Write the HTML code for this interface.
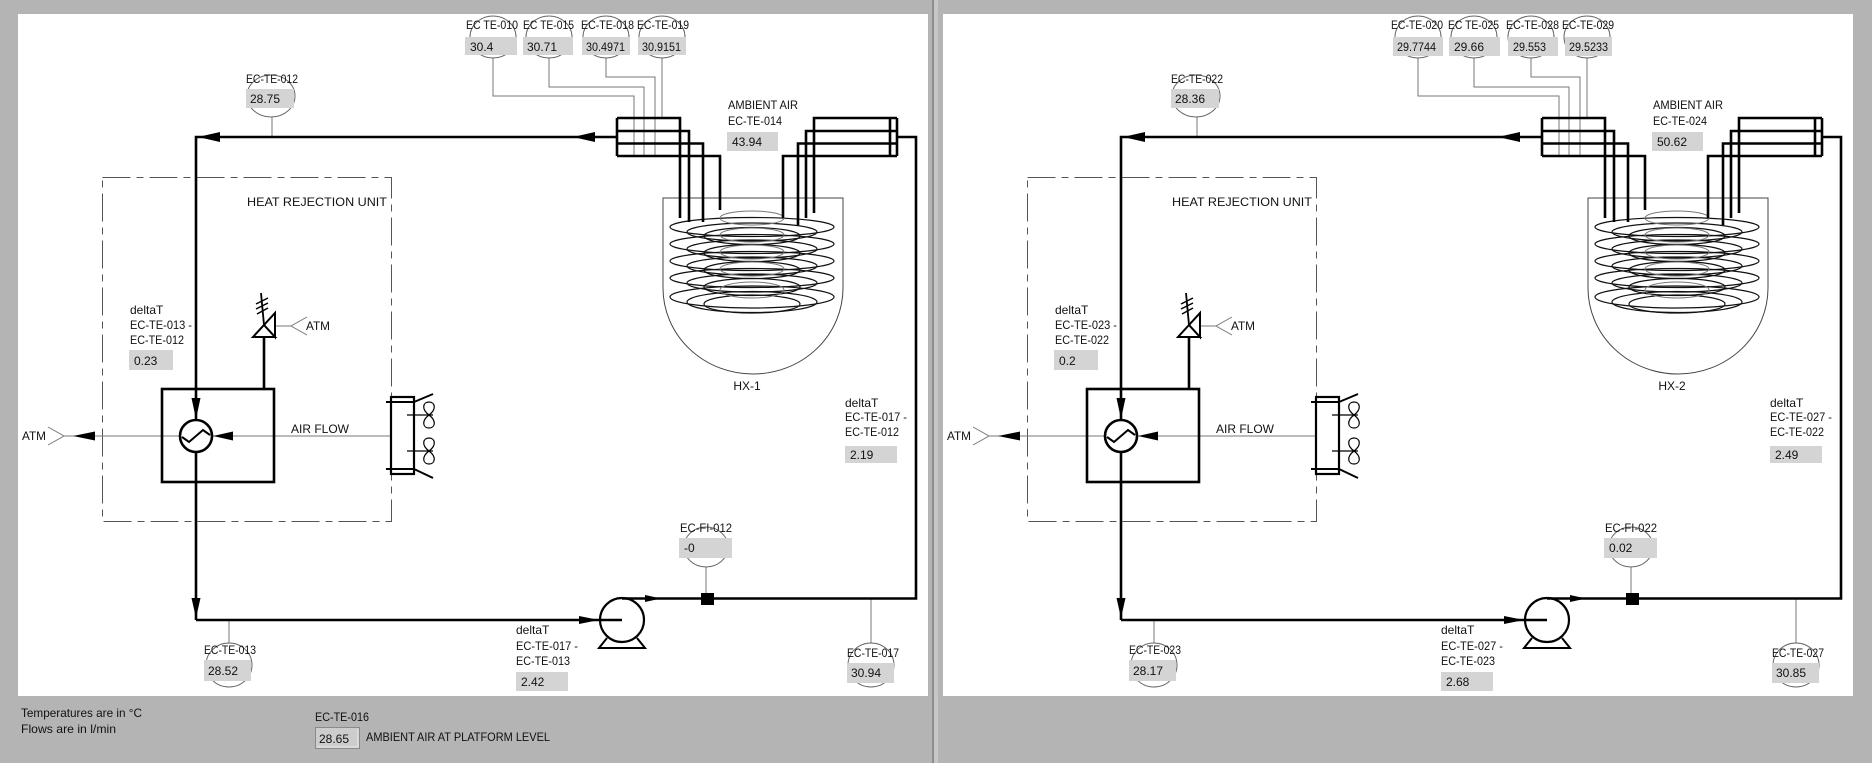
<!DOCTYPE html>
<html><head><meta charset="utf-8"><style>
html,body{margin:0;padding:0;background:#b4b4b4;}
svg{display:block}
text{font-family:"Liberation Sans",Arial,sans-serif;fill:#111;font-size:12px;}
</style></head><body>
<svg width="1872" height="763" viewBox="0 0 1872 763" xmlns="http://www.w3.org/2000/svg">
<rect width="1872" height="763" fill="#b4b4b4"/>
<rect x="18" y="14" width="910" height="682" fill="#fff"/>
<rect x="943" y="14" width="910" height="682" fill="#fff"/>
<rect x="932" y="0" width="2" height="763" fill="#8c8c8c"/>
<rect x="934" y="0" width="4" height="763" fill="#c6c6c6"/>

<defs>
<g id="d">
 <g fill="none" stroke="#000">
  <!-- HRU dashed box -->
  <rect x="102.5" y="177.5" width="289" height="344" stroke="#555" stroke-width="1" stroke-dasharray="28,6,7,6"/>
  <!-- vessel -->
  <path d="M663,198 V288 A90,86 0 0 0 843,288 V198 Z" stroke="#444" stroke-width="1"/>
  <!-- coils -->
  <g stroke="#111" stroke-width="1.2">
   <ellipse cx="752" cy="227" rx="82" ry="9.5"/>
   <ellipse cx="752" cy="244" rx="82" ry="9.5"/>
   <ellipse cx="752" cy="261" rx="82" ry="9.5"/>
   <ellipse cx="752" cy="278" rx="82" ry="9.5"/>
   <ellipse cx="752" cy="297" rx="82" ry="11"/>
   <ellipse cx="752" cy="232" rx="65" ry="9"/>
   <ellipse cx="752" cy="249" rx="65" ry="9"/>
   <ellipse cx="752" cy="266" rx="65" ry="9"/>
   <ellipse cx="752" cy="283" rx="65" ry="9"/>
   <ellipse cx="752" cy="302" rx="65" ry="10.5"/>
   <ellipse cx="752" cy="236" rx="48" ry="8.5"/>
   <ellipse cx="752" cy="253" rx="48" ry="8.5"/>
   <ellipse cx="752" cy="270" rx="48" ry="8.5"/>
   <ellipse cx="752" cy="287" rx="48" ry="8.5"/>
   <ellipse cx="752" cy="304" rx="48" ry="9"/>
  </g>
  <g stroke="#777" stroke-width="1">
   <ellipse cx="752" cy="218" rx="32" ry="7"/>
   <ellipse cx="752" cy="235" rx="32" ry="7"/>
   <ellipse cx="752" cy="252" rx="32" ry="7"/>
   <ellipse cx="752" cy="269" rx="32" ry="7"/>
   <ellipse cx="752" cy="290" rx="32" ry="8"/>
  </g>
  <!-- thin instrument lines -->
  <g stroke="#777" stroke-width="1">
   <path d="M493,58 V96 H634 V156"/>
   <path d="M549,58 V87 H644 V156"/>
   <path d="M606,58 V77 H655 V156"/>
   <path d="M662,58 V118"/>
   <path d="M272,117 V137"/>
   <path d="M706,567 V593"/>
   <path d="M871,599 V643"/>
   <path d="M229,620 V643"/>
   <path d="M64,436 H402"/>
   <path d="M48,427 L64,436 L48,445"/>
   <path d="M275,326 H291"/>
   <path d="M307,317 L291,326 L307,335"/>
  </g>
  <!-- bubbles -->
  <g stroke="#666" stroke-width="1">
   <ellipse cx="493" cy="37" rx="23" ry="21"/>
   <ellipse cx="549" cy="37" rx="23" ry="21"/>
   <ellipse cx="606" cy="37" rx="23" ry="21"/>
   <ellipse cx="662" cy="37" rx="23" ry="21"/>
   <ellipse cx="271" cy="96" rx="24" ry="21"/>
   <ellipse cx="706" cy="547" rx="22" ry="20"/>
   <ellipse cx="871" cy="665" rx="23" ry="22"/>
   <ellipse cx="229" cy="665" rx="23" ry="22"/>
  </g>
  <!-- pipes -->
  <g stroke-width="2.6">
   <path d="M617,137 H196 V420"/>
   <path d="M196,452 V620"/>
   <circle cx="622" cy="620" r="22" fill="#fff" stroke-width="2.2"/>
   <path d="M196,620 H622"/>
   <path d="M607,638 L599,648 H645 L637,638" stroke-width="2"/>
   <path d="M622,598.5 H916 V137 H897"/>
   <!-- left manifold -->
   <path d="M617,118 H680 V218"/>
   <path d="M617,131 H689 V222"/>
   <path d="M617,143.5 H703 V222"/>
   <path d="M617,156 H720 V210"/>
   <path d="M617,118 V156"/>
   <!-- right manifold -->
   <path d="M897,118 H814 V213"/>
   <path d="M897,131 H806 V218"/>
   <path d="M897,143.5 H798 V225"/>
   <path d="M897,156 H783 V218"/>
   <path d="M897,118 V156"/>
   <path d="M890,118 V156"/>
   <!-- cooler box -->
   <rect x="162" y="389" width="112" height="93"/>
   <path d="M264,389 V337"/>
   <circle cx="196" cy="436" r="16" fill="#fff"/>
   <polyline points="182,437 189,442 203,430 210,435" stroke-width="2"/>
   <!-- relief valve -->
   <path d="M253,337 H275 L264,325 Z M275,313 V337 L264,325 Z" stroke-width="2" fill="#fff"/>
   <path d="M264,325 L261,293" stroke-width="1.8"/>
   <path d="M256,304 L268,298 M256,309 L268,303 M257,314 L268,308" stroke-width="1.5"/>
   <!-- fan -->
   <rect x="391" y="397" width="23" height="77" stroke-width="2.2" fill="#fff"/>
   <path d="M386,402 H414 M386,469 H414" stroke-width="2"/>
   <path d="M414,402 L433,394 M414,469 L433,478" stroke-width="2"/>
   <path d="M407,415 H433 M407,451 H433" stroke-width="1.3"/>
   <path d="M429,415 C421,409 423,402 429,402 C435,402 437,409 429,415 C421,421 423,428 429,428 C435,428 437,421 429,415 Z" stroke-width="1.2"/>
   <path d="M429,451 C421,445 423,438 429,438 C435,438 437,445 429,451 C421,457 423,464 429,464 C435,464 437,457 429,451 Z" stroke-width="1.2"/>
  </g>
 </g>
 <!-- arrows -->
 <g fill="#000">
  <polygon points="198,137 220,132 220,142"/>
  <polygon points="573,137 595,132 595,142"/>
  <polygon points="196,419 191.5,398 200.5,398"/>
  <polygon points="196,618 191.5,598 200.5,598"/>
  <polygon points="599,620 579,616 579,624"/>
  <polygon points="661,598.5 645,595 645,602"/>
  <polygon points="73,436 95,431.5 95,440.5"/>
  <polygon points="213,436 233,431.5 233,440.5"/>
  <rect x="701" y="593" width="13" height="12"/>
 </g>
</g>
</defs>

<use href="#d"/>
<use href="#d" x="925"/>

<!-- LEFT PANEL TEXT -->
<g>
 <text x="466" y="29" textLength="52" lengthAdjust="spacingAndGlyphs">EC TE-010</text>
 <text x="523" y="29" textLength="51" lengthAdjust="spacingAndGlyphs">EC TE-015</text>
 <text x="581" y="29" textLength="53" lengthAdjust="spacingAndGlyphs">EC-TE-018</text>
 <text x="637" y="29" textLength="52" lengthAdjust="spacingAndGlyphs">EC-TE-019</text>
 <g fill="#d4d4d4">
  <rect x="465" y="37" width="52" height="18"/>
  <rect x="523" y="37" width="50" height="18"/>
  <rect x="582" y="37" width="48" height="18"/>
  <rect x="638" y="37" width="48" height="18"/>
  <rect x="246" y="89" width="48" height="19"/>
  <rect x="727" y="132" width="51" height="19"/>
  <rect x="129" y="350" width="44" height="20"/>
  <rect x="845" y="446" width="52" height="17"/>
  <rect x="679" y="538" width="53" height="20"/>
  <rect x="847" y="663" width="47" height="20"/>
  <rect x="204" y="660" width="47" height="21"/>
  <rect x="516" y="672" width="52" height="19"/>
 </g>
 <text x="470" y="51">30.4</text>
 <text x="527" y="51">30.71</text>
 <text x="586" y="51" textLength="39" lengthAdjust="spacingAndGlyphs">30.4971</text>
 <text x="642" y="51" textLength="39" lengthAdjust="spacingAndGlyphs">30.9151</text>
 <text x="246" y="83" textLength="52" lengthAdjust="spacingAndGlyphs">EC-TE-012</text>
 <text x="250" y="103">28.75</text>
 <text x="728" y="109" textLength="70" lengthAdjust="spacingAndGlyphs">AMBIENT AIR</text>
 <text x="728" y="125" textLength="54" lengthAdjust="spacingAndGlyphs">EC-TE-014</text>
 <text x="732" y="146">43.94</text>
 <text x="247" y="206" textLength="140" lengthAdjust="spacingAndGlyphs">HEAT  REJECTION  UNIT</text>
 <text x="130" y="314">deltaT</text>
 <text x="130" y="329" textLength="62" lengthAdjust="spacingAndGlyphs">EC-TE-013 -</text>
 <text x="130" y="344" textLength="54" lengthAdjust="spacingAndGlyphs">EC-TE-012</text>
 <text x="134" y="365">0.23</text>
 <text x="306" y="330" textLength="24" lengthAdjust="spacingAndGlyphs">ATM</text>
 <text x="22" y="440" textLength="24" lengthAdjust="spacingAndGlyphs">ATM</text>
 <text x="291" y="433" textLength="58" lengthAdjust="spacingAndGlyphs">AIR  FLOW</text>
 <text x="747" y="390" text-anchor="middle">HX-1</text>
 <text x="845" y="407">deltaT</text>
 <text x="845" y="421" textLength="62" lengthAdjust="spacingAndGlyphs">EC-TE-017 -</text>
 <text x="845" y="436" textLength="54" lengthAdjust="spacingAndGlyphs">EC-TE-012</text>
 <text x="850" y="459">2.19</text>
 <text x="680" y="532" textLength="52" lengthAdjust="spacingAndGlyphs">EC-FI-012</text>
 <text x="684" y="552">-0</text>
 <text x="847" y="657" textLength="52" lengthAdjust="spacingAndGlyphs">EC-TE-017</text>
 <text x="851" y="677">30.94</text>
 <text x="204" y="654" textLength="52" lengthAdjust="spacingAndGlyphs">EC-TE-013</text>
 <text x="208" y="675">28.52</text>
 <text x="516" y="634">deltaT</text>
 <text x="516" y="650" textLength="62" lengthAdjust="spacingAndGlyphs">EC-TE-017 -</text>
 <text x="516" y="665" textLength="54" lengthAdjust="spacingAndGlyphs">EC-TE-013</text>
 <text x="521" y="686">2.42</text>
</g>

<!-- RIGHT PANEL TEXT -->
<g transform="translate(925,0)">
 <text x="466" y="29" textLength="52" lengthAdjust="spacingAndGlyphs">EC-TE-020</text>
 <text x="523" y="29" textLength="51" lengthAdjust="spacingAndGlyphs">EC TE-025</text>
 <text x="581" y="29" textLength="53" lengthAdjust="spacingAndGlyphs">EC-TE-028</text>
 <text x="637" y="29" textLength="52" lengthAdjust="spacingAndGlyphs">EC-TE-029</text>
 <g fill="#d4d4d4">
  <rect x="468" y="37" width="50" height="19"/>
  <rect x="524" y="37" width="51" height="19"/>
  <rect x="583" y="37" width="50" height="19"/>
  <rect x="640" y="37" width="47" height="19"/>
  <rect x="246" y="89" width="48" height="19"/>
  <rect x="727" y="132" width="51" height="19"/>
  <rect x="129" y="350" width="44" height="20"/>
  <rect x="845" y="446" width="52" height="17"/>
  <rect x="679" y="538" width="53" height="20"/>
  <rect x="847" y="663" width="47" height="20"/>
  <rect x="204" y="660" width="47" height="21"/>
  <rect x="516" y="672" width="52" height="19"/>
 </g>
 <text x="472" y="51" textLength="39" lengthAdjust="spacingAndGlyphs">29.7744</text>
 <text x="529" y="51">29.66</text>
 <text x="588" y="51" textLength="33" lengthAdjust="spacingAndGlyphs">29.553</text>
 <text x="644" y="51" textLength="39" lengthAdjust="spacingAndGlyphs">29.5233</text>
 <text x="246" y="83" textLength="52" lengthAdjust="spacingAndGlyphs">EC-TE-022</text>
 <text x="250" y="103">28.36</text>
 <text x="728" y="109" textLength="70" lengthAdjust="spacingAndGlyphs">AMBIENT AIR</text>
 <text x="728" y="125" textLength="54" lengthAdjust="spacingAndGlyphs">EC-TE-024</text>
 <text x="732" y="146">50.62</text>
 <text x="247" y="206" textLength="140" lengthAdjust="spacingAndGlyphs">HEAT  REJECTION  UNIT</text>
 <text x="130" y="314">deltaT</text>
 <text x="130" y="329" textLength="62" lengthAdjust="spacingAndGlyphs">EC-TE-023 -</text>
 <text x="130" y="344" textLength="54" lengthAdjust="spacingAndGlyphs">EC-TE-022</text>
 <text x="134" y="365">0.2</text>
 <text x="306" y="330" textLength="24" lengthAdjust="spacingAndGlyphs">ATM</text>
 <text x="22" y="440" textLength="24" lengthAdjust="spacingAndGlyphs">ATM</text>
 <text x="291" y="433" textLength="58" lengthAdjust="spacingAndGlyphs">AIR  FLOW</text>
 <text x="747" y="390" text-anchor="middle">HX-2</text>
 <text x="845" y="407">deltaT</text>
 <text x="845" y="421" textLength="62" lengthAdjust="spacingAndGlyphs">EC-TE-027 -</text>
 <text x="845" y="436" textLength="54" lengthAdjust="spacingAndGlyphs">EC-TE-022</text>
 <text x="850" y="459">2.49</text>
 <text x="680" y="532" textLength="52" lengthAdjust="spacingAndGlyphs">EC-FI-022</text>
 <text x="684" y="552">0.02</text>
 <text x="847" y="657" textLength="52" lengthAdjust="spacingAndGlyphs">EC-TE-027</text>
 <text x="851" y="677">30.85</text>
 <text x="204" y="654" textLength="52" lengthAdjust="spacingAndGlyphs">EC-TE-023</text>
 <text x="208" y="675">28.17</text>
 <text x="516" y="634">deltaT</text>
 <text x="516" y="650" textLength="62" lengthAdjust="spacingAndGlyphs">EC-TE-027 -</text>
 <text x="516" y="665" textLength="54" lengthAdjust="spacingAndGlyphs">EC-TE-023</text>
 <text x="521" y="686">2.68</text>
</g>

<!-- bottom area -->
<text x="21" y="717" textLength="121" lengthAdjust="spacingAndGlyphs">Temperatures are in °C</text>
<text x="21" y="733" textLength="95" lengthAdjust="spacingAndGlyphs">Flows are in l/min</text>
<text x="315" y="721" textLength="54" lengthAdjust="spacingAndGlyphs">EC-TE-016</text>
<rect x="315.5" y="727.5" width="44" height="21" fill="#cdcdcd" stroke="#8a8a8a" stroke-width="1"/>
<path d="M317,747 H358 V729" stroke="#e6e6e6" stroke-width="1" fill="none"/>
<text x="319" y="743">28.65</text>
<text x="366" y="741" textLength="184" lengthAdjust="spacingAndGlyphs">AMBIENT AIR AT PLATFORM LEVEL</text>
</svg>
</body></html>
